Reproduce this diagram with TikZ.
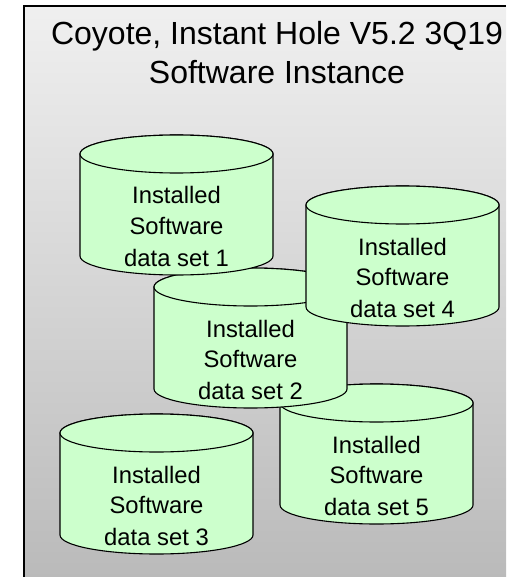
\documentclass[tikz,border=0pt]{standalone}
\usepackage{fontspec}
\setmainfont{Liberation Sans}
\definecolor{cylgreen}{HTML}{CCFFCC}
\tikzset{
  x=1pt,y=-1pt,
  cylline/.style={draw=black,line width=1.1pt,fill=cylgreen},
  cyltext/.style={font=\fontsize{23.8}{28}\selectfont,anchor=base,inner sep=0pt},
  titletext/.style={font=\fontsize{32}{38}\selectfont,anchor=base,inner sep=0pt},
}
% #1 name, #2 left x, #3 ellipse centre y, #4 number
\newcommand{\datacyl}[4]{%
  \begin{scope}[shift={(#2,#3)}]
    \path[cylline] (0,0) -- (0,102) arc[start angle=180,end angle=0,x radius=96.5,y radius=19] -- (193,0)
      arc[start angle=0,end angle=-180,x radius=96.5,y radius=19] -- cycle;
    \path[cylline] (0,0) arc[start angle=180,end angle=-180,x radius=96.5,y radius=19];
    \node[cyltext] (#1a) at (96.5,50) {Installed};
    \node[cyltext] (#1b) at (96.5,80) {Software};
    \node[cyltext] (#1c) at (96.5,112) {data set #4};
  \end{scope}}
\begin{document}
\begin{tikzpicture}
\useasboundingbox (0,0) rectangle (506,577);
\shade[top color=black!6,bottom color=black!27] (24,6) rectangle (506,577);
\draw[line width=1.2pt] (24,577) -- (24,6) -- (506,6);
\node[titletext] (title1) at (277,44.5) {Coyote, Instant Hole V5.2 3Q19};
\node[titletext] (title2) at (277,84) {Software Instance};
\datacyl{e}{280}{403}{5}
\datacyl{b}{154}{287}{2}
\datacyl{a}{80}{154}{1}
\datacyl{d}{306}{205}{4}
\datacyl{c}{60}{433}{3}
\end{tikzpicture}
\end{document}
